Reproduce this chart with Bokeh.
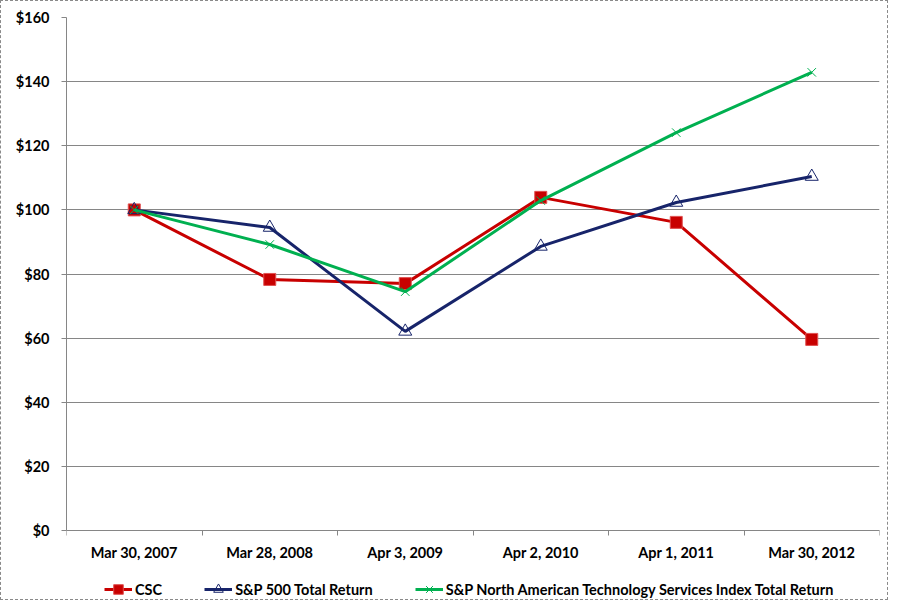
from bokeh.plotting import figure
from bokeh.models import FixedTicker, NumeralTickFormatter, Legend, LegendItem, Range1d
from bokeh.embed import file_html
from bokeh.resources import INLINE

categories = ["Mar 30, 2007", "Mar 28, 2008", "Apr 3, 2009", "Apr 2, 2010", "Apr 1, 2011", "Mar 30, 2012"]
csc = [100, 78.3, 77.0, 103.9, 96.1, 59.6]
sp500 = [100, 94.5, 62.1, 88.6, 102.3, 110.4]
tech = [100, 89.2, 74.5, 102.9, 124.1, 142.9]
y_ticks = [0, 20, 40, 60, 80, 100, 120, 140, 160]

FONT = "Lato"
RED = "#C80000"
BLUE = "#17246A"
GREEN = "#00B050"
GRID = "#868686"

x = [i + 0.5 for i in range(len(categories))]

# frame spans from 16px to 600px; value axis 0..160 occupies 16px..529px
PX_PER_UNIT = 513 / 160.0
y_low = -(600 - 529) / PX_PER_UNIT

p = figure(width=888, height=600, output_backend="svg", toolbar_location=None,
           x_range=Range1d(0, len(categories)), y_range=Range1d(y_low, 160),
           min_border_left=65, min_border_right=10, min_border_top=16, min_border_bottom=0)
p.outline_line_color = None
p.background_fill_color = "white"
p.border_fill_color = "white"
p.styles = {"border": "1px dashed #8a8a8a", "box-sizing": "border-box"}

# axes
p.xaxis.fixed_location = 0
p.xaxis.ticker = FixedTicker(ticks=x, minor_ticks=list(range(len(categories) + 1)))
p.xaxis.major_label_overrides = {xi: c for xi, c in zip(x, categories)}
p.xaxis.major_tick_out = 0
p.xaxis.major_tick_in = 0
p.xaxis.minor_tick_out = 5
p.xaxis.minor_tick_in = 0
p.xaxis.minor_tick_line_color = GRID
p.xaxis.axis_line_color = GRID
p.xaxis.major_label_standoff = 8

p.yaxis.bounds = (0, 160)
p.yaxis.ticker = FixedTicker(ticks=y_ticks)
p.yaxis.formatter = NumeralTickFormatter(format="$0")
p.yaxis.major_tick_out = 5
p.yaxis.major_tick_in = 0
p.yaxis.minor_tick_line_color = None
p.yaxis.major_tick_line_color = GRID
p.yaxis.axis_line_color = GRID
p.yaxis.major_label_standoff = 12

for ax in (p.xaxis, p.yaxis):
    ax.major_label_text_font = FONT
    ax.major_label_text_font_style = "bold"
    ax.major_label_text_font_size = "14.5px"
    ax.major_label_text_color = "black"

p.xgrid.grid_line_color = None
p.ygrid.ticker = FixedTicker(ticks=y_ticks)
p.ygrid.grid_line_color = GRID
p.ygrid.grid_line_width = 1

# series
l1 = p.line(x, csc, line_color=RED, line_width=3)
m1 = p.scatter(x, csc, marker="square", size=12, fill_color=RED, line_color="#e05050", line_width=1)
l2 = p.line(x, sp500, line_color=BLUE, line_width=3)
m2 = p.scatter(x, sp500, marker="triangle", size=13, fill_color="white", fill_alpha=0.0, line_color=BLUE, line_width=1)
l3 = p.line(x, tech, line_color=GREEN, line_width=3)
m3 = p.scatter(x, tech, marker="x", size=12, line_color=GREEN, line_width=1)

legend = Legend(items=[
    LegendItem(label="CSC", renderers=[l1, m1]),
    LegendItem(label="S&P 500 Total Return", renderers=[l2, m2]),
    LegendItem(label="S&P North American Technology Services Index Total Return", renderers=[l3, m3]),
], orientation="horizontal", location=(38, 0))
legend.border_line_color = None
legend.background_fill_alpha = 0
legend.padding = 0
legend.margin = 0
legend.spacing = 42
legend.glyph_width = 28
legend.glyph_height = 24
legend.label_standoff = 3
legend.label_text_font = FONT
legend.label_text_font_style = "bold"
legend.label_text_font_size = "14.5px"
legend.label_text_color = "black"
p.add_layout(legend, "center")

open("out.html", "w").write(file_html(p, INLINE))
